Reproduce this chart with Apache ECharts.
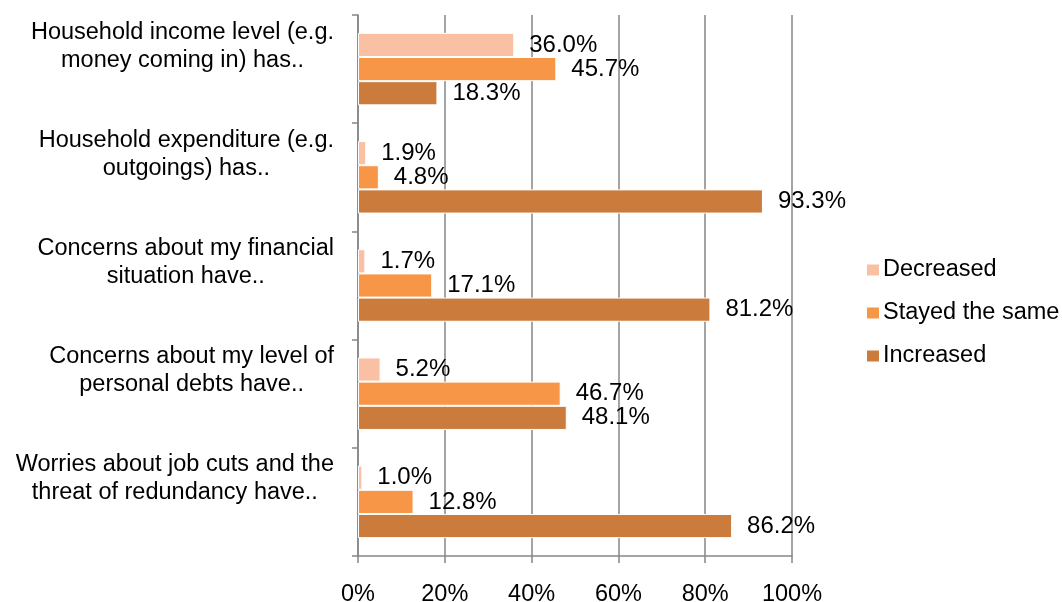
<!DOCTYPE html>
<html>
<head>
<meta charset="utf-8">
<script src="https://cdn.jsdelivr.net/npm/echarts@6/dist/echarts.min.js"></script>
<style>html,body{margin:0;padding:0;background:#fff}#c{width:1062px;height:602px}</style>
</head>
<body>
<div id="c"></div>
<script>
const categories = [
  "Household income level (e.g.\nmoney coming in) has..",
  "Household expenditure (e.g.\noutgoings) has..",
  "Concerns about my financial\nsituation have..",
  "Concerns about my level of\npersonal debts have..",
  "Worries about job cuts and the\nthreat of redundancy have.."
];
const seriesNames = ["Decreased", "Stayed the same", "Increased"];
const decreased = [36.0, 1.9, 1.7, 5.2, 1.0];
const stayedSame = [45.7, 4.8, 17.1, 46.7, 12.8];
const increased = [18.3, 93.3, 81.2, 48.1, 86.2];
const xTicks = [0, 20, 40, 60, 80, 100];

const colors = ["#FAC0A4", "#F79646", "#CB7B3B"];
const font = "Liberation Sans, Arial, sans-serif";
const fs = 23.5;
const chart = echarts.init(document.getElementById('c'));
function mk(name, data, i) {
  return {
    name: name, type: 'bar', data: data,
    barGap: '0%', barCategoryGap: '33%',
    itemStyle: { color: colors[i], borderColor: '#fff', borderWidth: 1 },
    label: {
      show: true, position: 'right', distance: 15,
      formatter: p => p.value.toFixed(1) + '%',
      color: '#000', fontSize: 24, fontFamily: font
    }
  };
}
chart.setOption({
  animation: false,
  textStyle: { fontFamily: font },
  grid: { left: 358, right: 270, top: 15, bottom: 46, containLabel: false, outerBoundsMode: 'none' },
  legend: {
    orient: 'vertical', left: 865, top: 258, itemGap: 19, padding: 0,
    itemWidth: 14, itemHeight: 13, icon: 'rect',
    textStyle: { fontSize: fs, color: '#000', fontFamily: font, padding: [0, 0, 0, -2] },
    data: seriesNames
  },
  xAxis: {
    type: 'value', min: xTicks[0], max: xTicks[xTicks.length - 1], interval: 20,
    axisLine: { show: true, lineStyle: { color: '#868686', width: 1.5 } },
    axisTick: { show: true, length: 7, lineStyle: { color: '#868686', width: 1.5 } },
    splitLine: { show: true, lineStyle: { color: '#868686', width: 1.5 } },
    axisLabel: { formatter: v => v + '%', fontSize: fs, color: '#000', margin: 27, fontFamily: font }
  },
  yAxis: {
    type: 'category', inverse: true, data: categories,
    axisLine: { show: true, lineStyle: { color: '#868686', width: 1.5 } },
    axisTick: { show: true, length: 6, inside: false, lineStyle: { color: '#868686', width: 1.5 } },
    axisLabel: {
      fontSize: fs, color: '#000', margin: 24, fontFamily: font, lineHeight: 28,
      padding: [0, 0, 46, 0],
      formatter: v => v.split('\n').map(s => '{c|' + s + '}').join('\n'),
      rich: { c: { align: 'center', fontSize: fs, fontFamily: font, color: '#000', lineHeight: 28 } }
    }
  },
  series: [mk(seriesNames[0], decreased, 0), mk(seriesNames[1], stayedSame, 1), mk(seriesNames[2], increased, 2)]
});
</script>
</body>
</html>
